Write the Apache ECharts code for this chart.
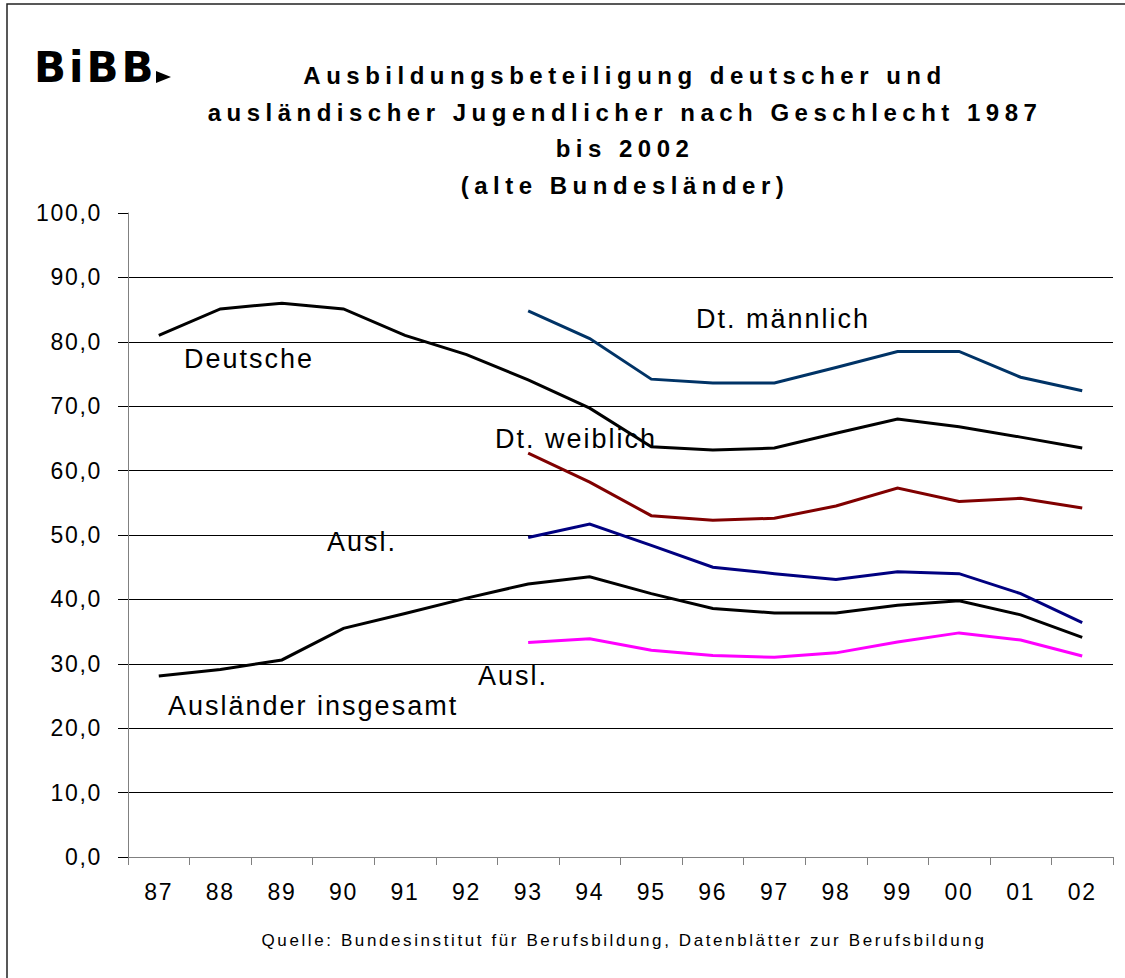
<!DOCTYPE html>
<html><head><meta charset="utf-8">
<script src="https://cdn.jsdelivr.net/npm/echarts@6/dist/echarts.min.js"></script>
<style>
html,body{margin:0;padding:0;background:#fff}
#main{width:1125px;height:978px}
#main svg text{letter-spacing:1.7px}
#main svg text[style*="27px"]{letter-spacing:2px}
#main svg text[style*="17px"]{letter-spacing:2.6px}
#main svg text[style*="bold"]{letter-spacing:5.5px}
#main svg text[style*="900"]{letter-spacing:3px}
</style></head><body><div id="main"></div>
<script>
const years = ['87','88','89','90','91','92','93','94','95','96','97','98','99','00','01','02'];
const yTickLabels = ['0,0','10,0','20,0','30,0','40,0','50,0','60,0','70,0','80,0','90,0','100,0'];
const deutsche      = [81.0,85.1,86.0,85.1,81.0,78.0,74.1,69.7,63.7,63.2,63.5,65.8,68.0,66.8,65.2,63.5];
const dtMaennlich   = [null,null,null,null,null,null,84.8,80.5,74.2,73.6,73.6,76.0,78.5,78.5,74.5,72.4];
const dtWeiblich    = [null,null,null,null,null,null,62.7,58.2,53.0,52.3,52.6,54.5,57.3,55.2,55.7,54.2];
const auslInsgesamt = [28.1,29.1,30.6,35.5,37.8,40.2,42.4,43.5,40.9,38.6,37.9,37.9,39.1,39.8,37.6,34.1];
const auslMaennlich = [null,null,null,null,null,null,49.6,51.7,48.4,45.0,44.0,43.1,44.3,44.0,40.9,36.4];
const auslWeiblich  = [null,null,null,null,null,null,33.3,33.9,32.1,31.3,31.0,31.7,33.4,34.8,33.7,31.2];

const titleLines = ['Ausbildungsbeteiligung deutscher und','ausländischer Jugendlicher nach Geschlecht 1987','bis 2002','(alte Bundesländer)'];
const sourceText = 'Quelle: Bundesinstitut für Berufsbildung, Datenblätter zur Berufsbildung';

const FF = '"Liberation Sans", Arial, sans-serif';
const chart = echarts.init(document.getElementById('main'), null, {renderer:'svg'});

function ser(name, data, color){
  return {name, type:'line', data, symbol:'none', connectNulls:false, silent:true,
    lineStyle:{color, width:3, join:'miter'}, itemStyle:{color}};
}
function ann(text, x, y){
  return {type:'text', x, y, silent:true, z:10,
    style:{text, fill:'#000', fontSize:27, fontFamily:FF, textAlign:'left', textVerticalAlign:'middle'}};
}

chart.setOption({
  animation:false,
  backgroundColor:'#fff',
  grid:{left:128, right:12, top:213, bottom:121},
  xAxis:{type:'category', data:years, boundaryGap:true,
    axisLine:{show:true, lineStyle:{color:'#808080', width:1}},
    axisTick:{show:true, interval:0, length:8, lineStyle:{color:'#808080'}},
    axisLabel:{interval:0, fontSize:23, fontFamily:FF, color:'#000', margin:23},
    splitLine:{show:false}},
  yAxis:{type:'value', min:0, max:100, interval:10,
    axisLine:{show:true, lineStyle:{color:'#808080', width:1}},
    axisTick:{show:true, length:10, lineStyle:{color:'#000'}},
    axisLabel:{fontSize:23, fontFamily:FF, color:'#000', margin:26,
      formatter:(v)=>yTickLabels[Math.round(v/10)]},
    splitLine:{show:true, showMaxLine:false, lineStyle:{color:'#000', width:1}}},
  series:[
    ser('Deutsche', deutsche, '#000000'),
    ser('Dt. männlich', dtMaennlich, '#003366'),
    ser('Dt. weiblich', dtWeiblich, '#800000'),
    ser('Ausländer insgesamt', auslInsgesamt, '#000000'),
    ser('Ausl. männlich', auslMaennlich, '#000080'),
    ser('Ausl. weiblich', auslWeiblich, '#FF00FF')
  ],
  graphic:[
    {type:'rect', silent:true, shape:{x:7, y:4, width:1300, height:1200},
      style:{fill:'none', stroke:'#222', lineWidth:1.5}},
    {type:'text', x:34, y:67, silent:true,
      style:{text:'BiBB', fill:'#000', fontSize:42, fontWeight:900, fontFamily:'"DejaVu Sans", sans-serif', textAlign:'left', textVerticalAlign:'middle'}},
    {type:'polygon', silent:true, shape:{points:[[156,71],[171,77],[156,83]]}, style:{fill:'#000'}},
    {type:'text', x:625, y:57, silent:true,
      style:{text:titleLines.join('\n'), fill:'#000', fontSize:24, fontWeight:'bold', fontFamily:FF,
        lineHeight:36.7, textAlign:'center', textVerticalAlign:'top'}},
    ann('Deutsche', 184, 359),
    ann('Dt. männlich', 696, 319),
    ann('Dt. weiblich', 495, 439),
    ann('Ausl.', 327, 542),
    ann('Ausl.', 478, 676),
    ann('Ausländer insgesamt', 168, 706),
    {type:'text', x:624, y:940, silent:true,
      style:{text:sourceText, fill:'#000', fontSize:17, fontFamily:FF, textAlign:'center', textVerticalAlign:'middle'}}
  ]
});
</script></body></html>
